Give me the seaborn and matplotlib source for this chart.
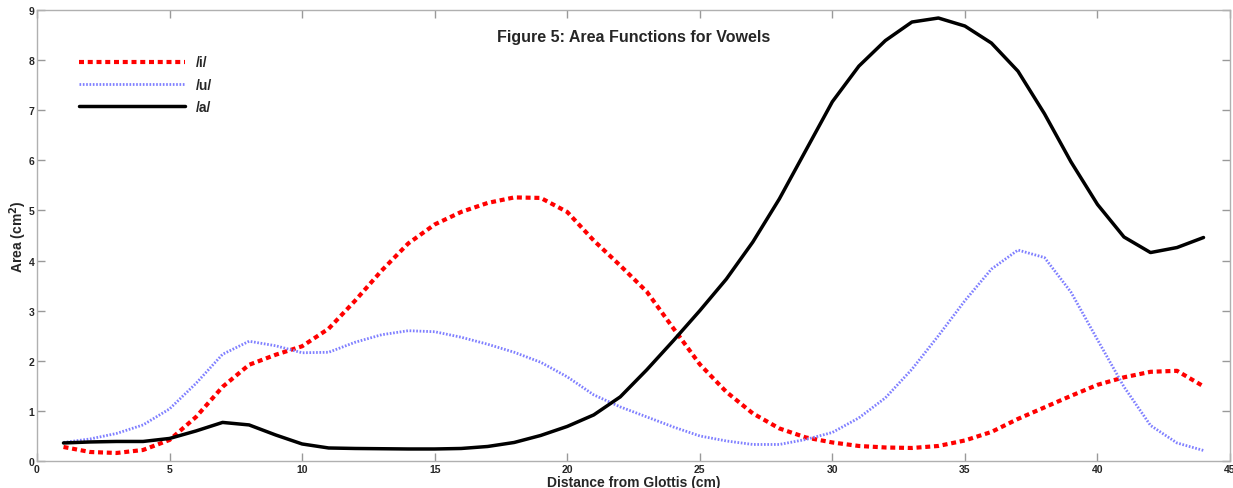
import numpy as np
import pandas as pd
import matplotlib
matplotlib.use("Agg")
import matplotlib.pyplot as plt
import seaborn as sns

distance = list(range(1, 45))

area_i = [0.28, 0.18, 0.16, 0.22, 0.42, 0.88, 1.48, 1.92, 2.12, 2.29,
          2.64, 3.2, 3.8, 4.34, 4.72, 4.97, 5.15, 5.26, 5.25, 4.97,
          4.4, 3.9, 3.38, 2.65, 1.93, 1.38, 0.95, 0.65, 0.47, 0.37,
          0.3, 0.27, 0.26, 0.3, 0.41, 0.58, 0.84, 1.07, 1.3, 1.52,
          1.67, 1.78, 1.8, 1.49]
area_u = [0.37, 0.44, 0.55, 0.72, 1.04, 1.55, 2.13, 2.39, 2.3, 2.16,
          2.17, 2.37, 2.52, 2.6, 2.58, 2.47, 2.33, 2.17, 1.97, 1.68,
          1.32, 1.08, 0.88, 0.68, 0.5, 0.4, 0.33, 0.33, 0.43, 0.57,
          0.86, 1.26, 1.83, 2.5, 3.2, 3.83, 4.21, 4.06, 3.37, 2.42,
          1.48, 0.71, 0.36, 0.21]
area_a = [0.36, 0.38, 0.39, 0.39, 0.45, 0.6, 0.77, 0.72, 0.52, 0.34,
          0.26, 0.25, 0.245, 0.24, 0.24, 0.25, 0.29, 0.37, 0.51, 0.69,
          0.92, 1.28, 1.82, 2.4, 3.0, 3.63, 4.37, 5.23, 6.2, 7.17,
          7.88, 8.39, 8.76, 8.84, 8.68, 8.34, 7.78, 6.93, 5.97, 5.12,
          4.47, 4.16, 4.26, 4.46]

labels = ["/i/", "/u/", "/a/"]
title = "Figure 5: Area Functions for Vowels"
xlabel = "Distance from Glottis (cm)"
ylabel = "Area (cm$^2$)"

df = pd.DataFrame({
    "Distance": distance * 3,
    "Area": area_i + area_u + area_a,
    "Vowel": [labels[0]] * len(distance) + [labels[1]] * len(distance) + [labels[2]] * len(distance),
})

sns.set_theme(style="white")
plt.rcParams["font.family"] = ["Liberation Sans", "DejaVu Sans"]
plt.rcParams["font.weight"] = "bold"

fig = plt.figure(figsize=(12.33, 4.89), dpi=100)
ax = fig.add_axes([0.030, 0.0552, 0.9676, 0.9223])

styles = {
    labels[0]: dict(color="#ff0000", linestyle=(0, (1.2, 0.9)), linewidth=3.0),
    labels[1]: dict(color="#7f7fff", linestyle=(0, (0.6, 0.6)), linewidth=2.0),
    labels[2]: dict(color="black", linestyle="-", linewidth=2.5),
}
for lab in labels:
    sub = df[df["Vowel"] == lab]
    sns.lineplot(data=sub, x="Distance", y="Area", ax=ax, label=lab,
                 estimator=None, sort=False, **styles[lab])

ax.set_xlim(0, 45)
ax.set_ylim(0, 9)
ax.set_xticks(range(0, 46, 5))
ax.set_yticks(range(0, 10))
ax.tick_params(axis="both", which="both", direction="in", length=6, width=1,
               color="#999999", labelsize=7.5, top=True, right=True,
               left=True, bottom=True, pad=2)
for lbl in ax.get_xticklabels() + ax.get_yticklabels():
    lbl.set_fontweight("bold")
for sp in ax.spines.values():
    sp.set_color("#b0b0b0")
    sp.set_linewidth(1.0)

ax.set_xlabel(xlabel, fontsize=10, fontweight="bold", labelpad=1)
ax.set_ylabel(ylabel, fontsize=10, fontweight="bold", labelpad=-0.5)
ax.text(0.5, 0.942, title, transform=ax.transAxes, ha="center", va="center",
        fontsize=11.5, fontweight="bold")

leg = ax.legend(loc="upper left", bbox_to_anchor=(0.025, 0.927), frameon=False,
                handlelength=7.6, handletextpad=0.8, labelspacing=0.6,
                prop={"size": 10, "weight": "bold"})

fig.savefig("out.png", dpi=100)
